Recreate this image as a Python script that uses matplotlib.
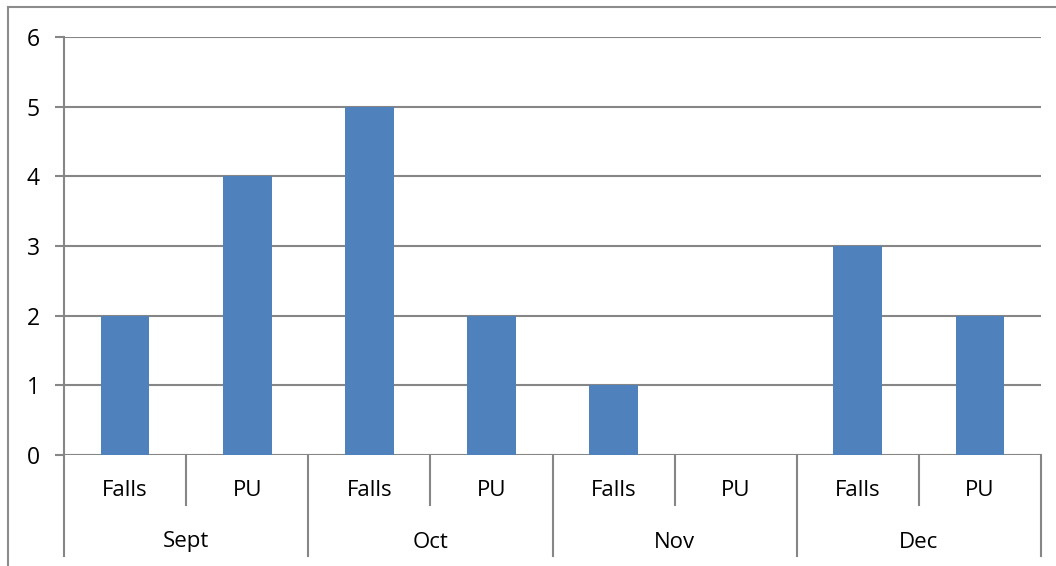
import matplotlib.pyplot as plt
from matplotlib.lines import Line2D

# data
months = ['Sept', 'Oct', 'Nov', 'Dec']
kinds = ['Falls', 'PU']
counts = [2, 4, 5, 2, 1, 0, 3, 2]

plt.rcParams['font.family'] = ['Open Sans', 'DejaVu Sans']

W, H = 1056, 566
fig = plt.figure(figsize=(W / 100, H / 100), dpi=100)
x0, x1, ytop, ybot = 64, 1041, 37, 455
ax = fig.add_axes([x0 / W, 1 - ybot / H, (x1 - x0) / W, (ybot - ytop) / H])

grey = '#868686'
n = len(months) * len(kinds)
xs = list(range(n))
ax.bar(xs, counts, width=0.4, color='#4F81BD', zorder=3)

ax.set_xlim(-0.5, n - 0.5)
ax.set_ylim(0, 6)
ax.set_yticks(range(7))
ax.yaxis.grid(True, color=grey, linewidth=1.5)
ax.set_axisbelow(True)
ax.tick_params(axis='y', length=6.5, width=1.5, color=grey, labelsize=16.5, pad=11)
ax.set_xticks([])
for s in ['top', 'right', 'bottom', 'left']:
    ax.spines[s].set_visible(False)

# category axis drawn by hand below the plot
axh = ybot - ytop
short = -(505 - ybot) / axh
long_ = -(556 - ybot) / axh
tr = ax.get_xaxis_transform()
ax.plot([-0.5, -0.5], [1, long_], color=grey, lw=1.5, transform=tr, clip_on=False)
for i in range(len(months)):
    ax.plot([2 * i + 1.5] * 2, [0, long_], color=grey, lw=1.5, transform=tr, clip_on=False)
    ax.plot([2 * i + 0.5] * 2, [0, short], color=grey, lw=1.5, transform=tr, clip_on=False)
    ax.text(2 * i + 0.5, -(542 - ybot) / axh, months[i], transform=tr,
            ha='center', va='center', fontsize=16)
for j in range(n):
    ax.text(j, -(491 - ybot) / axh, kinds[j % 2], transform=tr,
            ha='center', va='center', fontsize=16)

# outer chart border (left and top parts visible)
fig.add_artist(Line2D([8 / W, 8 / W], [0, 1 - 7 / H], color='#8c8c8c', lw=1.5))
fig.add_artist(Line2D([8 / W, 1], [1 - 7 / H, 1 - 7 / H], color='#8c8c8c', lw=1.5))

fig.savefig('out.png', dpi=100)
